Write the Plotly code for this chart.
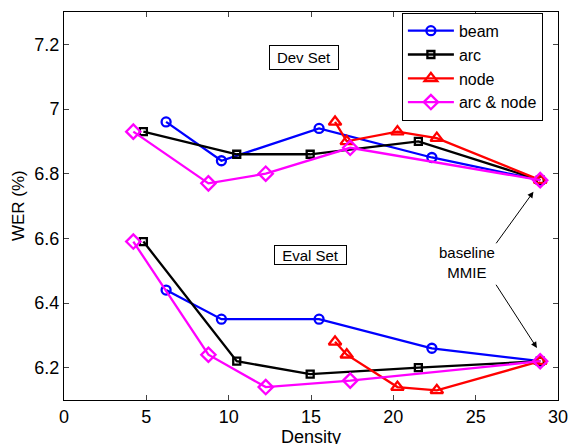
import plotly.graph_objects as go

# ---- data ----
beam_x = [6.2, 9.56, 15.49, 22.34, 28.92]
beam_dev = [6.96, 6.84, 6.94, 6.85, 6.78]
beam_eval = [6.44, 6.35, 6.35, 6.26, 6.22]

arc_x = [4.82, 10.49, 14.95, 21.52, 28.92]
arc_dev = [6.93, 6.86, 6.86, 6.90, 6.78]
arc_eval = [6.59, 6.22, 6.18, 6.20, 6.22]

node_x = [16.46, 17.17, 20.25, 22.64, 28.92]
node_dev = [6.96, 6.90, 6.93, 6.91, 6.78]
node_eval = [6.28, 6.24, 6.14, 6.13, 6.22]

an_x = [4.21, 8.77, 12.25, 17.38, 28.92]
an_dev = [6.93, 6.77, 6.80, 6.88, 6.78]
an_eval = [6.59, 6.24, 6.14, 6.16, 6.22]

x_ticks = [0, 5, 10, 15, 20, 25, 30]
y_ticks = [6.2, 6.4, 6.6, 6.8, 7.0, 7.2]
y_tick_labels = ["6.2", "6.4", "6.6", "6.8", "7", "7.2"]

FONT = "Liberation Sans, Arial, Helvetica, sans-serif"

series = [
    ("beam", beam_x, beam_dev, beam_eval, "#0000ff", "circle-open", 9),
    ("arc", arc_x, arc_dev, arc_eval, "#000000", "square-open", 7),
    ("node", node_x, node_dev, node_eval, "#ff0000", "triangle-up-open", 11),
    ("arc & node", an_x, an_dev, an_eval, "#ff00ff", "diamond-open", 11),
]

fig = go.Figure()
for name, xs, dev, ev, col, sym, sz in series:
    for i, ys in enumerate([dev, ev]):
        fig.add_trace(go.Scatter(
            x=xs, y=ys, mode="lines+markers", name=name,
            legendgroup=name, showlegend=(i == 0),
            line=dict(color=col, width=2.3),
            marker=dict(symbol=sym, size=sz, color=col,
                        line=dict(color=col, width=2.3)),
        ))

annotations = [
    dict(x=14.58, y=7.16, xref="x", yref="y", text="Dev Set", showarrow=False,
         bordercolor="black", borderwidth=1, bgcolor="white",
         width=66, height=21, borderpad=1,
         font=dict(family=FONT, size=15, color="black")),
    dict(x=14.95, y=6.549, xref="x", yref="y", text="Eval Set", showarrow=False,
         bordercolor="black", borderwidth=1, bgcolor="white",
         width=69, height=16, borderpad=1,
         font=dict(family=FONT, size=15, color="black")),
    dict(x=24.5, y=6.524, xref="x", yref="y", text="baseline<br>MMIE",
         showarrow=False, font=dict(family=FONT, size=15, color="black")),
    dict(x=28.51, y=6.744, xref="x", yref="y", ax=26.18, ay=6.58,
         axref="x", ayref="y", text="", showarrow=True,
         arrowhead=2, arrowsize=1.2, arrowwidth=1, arrowcolor="black"),
    dict(x=28.72, y=6.261, xref="x", yref="y", ax=26.18, ay=6.461,
         axref="x", ayref="y", text="", showarrow=True,
         arrowhead=2, arrowsize=1.2, arrowwidth=1, arrowcolor="black"),
    # axis titles
    dict(x=-0.093, y=0.5, xref="paper", yref="paper", text="WER (%)",
         textangle=-90, showarrow=False, xanchor="center", yanchor="middle",
         font=dict(family=FONT, size=17, color="black")),
    dict(x=0.5, y=-0.0644, xref="paper", yref="paper", text="Density",
         showarrow=False, xanchor="center", yanchor="top",
         font=dict(family=FONT, size=18, color="black")),
]

fig.update_layout(
    width=569, height=444,
    margin=dict(l=64, r=11, t=12, b=44, autoexpand=False),
    paper_bgcolor="white", plot_bgcolor="white",
    font=dict(family=FONT, size=18, color="black"),
    showlegend=True,
    legend=dict(x=0.684, y=0.998, xanchor="left", yanchor="top",
                bordercolor="black", borderwidth=1, bgcolor="white",
                font=dict(family=FONT, size=16, color="black"),
                itemwidth=46, tracegroupgap=0),
    annotations=annotations,
    xaxis=dict(range=[0, 30], tickvals=x_ticks, ticks="inside", ticklen=5,
               showline=True, linecolor="black", linewidth=1, mirror="ticks",
               showgrid=False, zeroline=False, automargin=False,
               tickfont=dict(family=FONT, size=18)),
    yaxis=dict(range=[6.1, 7.3], tickvals=y_ticks, ticktext=y_tick_labels,
               ticks="inside", ticklen=5,
               showline=True, linecolor="black", linewidth=1, mirror="ticks",
               showgrid=False, zeroline=False, automargin=False,
               tickfont=dict(family=FONT, size=18)),
)

fig.write_html(
    "out.html",
    config={"displayModeBar": False},
    post_script="document.body.style.margin='0';"
                "document.body.style.overflow='hidden';",
)
